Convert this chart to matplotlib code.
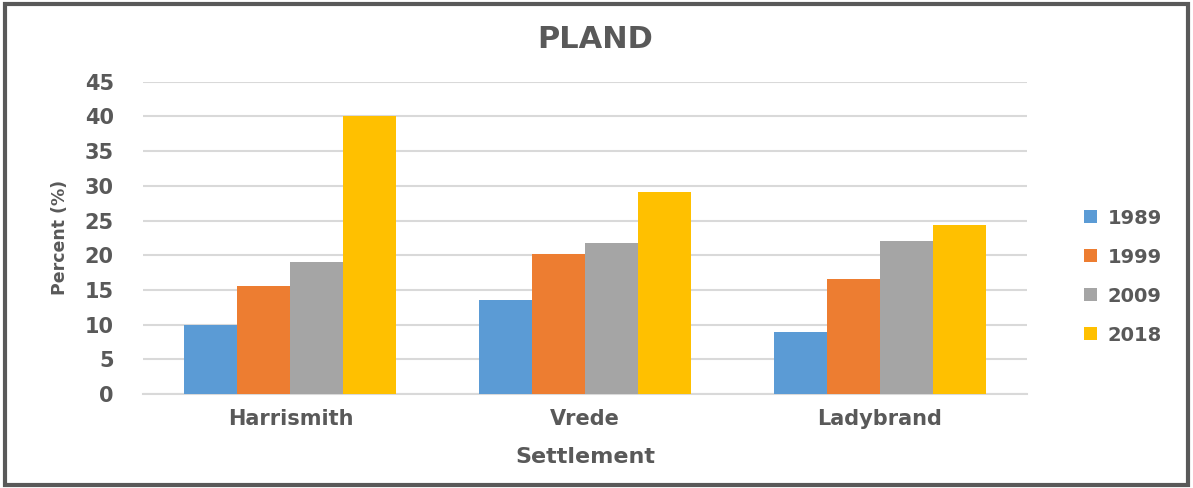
import matplotlib
matplotlib.use("Agg")
import matplotlib.pyplot as plt
from matplotlib.patches import Rectangle
import numpy as np

plt.rcParams['font.family'] = ['DejaVu Sans']

settlements = ["Harrismith", "Vrede", "Ladybrand"]
years = ["1989", "1999", "2009", "2018"]
v1989 = [10.0, 13.5, 9.0]
v1999 = [15.5, 20.2, 16.6]
v2009 = [19.0, 21.8, 22.0]
v2018 = [40.0, 29.1, 24.3]
colors = ["#5b9bd5", "#ed7d31", "#a5a5a5", "#ffc000"]

txt = "#595959"

fig = plt.figure(figsize=(11.93, 4.88), dpi=100)
ax = fig.add_axes([0.1199, 0.1926, 0.7411, 0.64])

x = np.arange(len(settlements))
w = 0.18
series = [v1989, v1999, v2009, v2018]
for i, vals in enumerate(series):
    ax.bar(x + (i - 1.5) * w, vals, width=w, color=colors[i], label=years[i], zorder=3)

ax.set_xlim(-0.5, 2.5)
ax.set_ylim(0, 45)
ax.set_yticks(np.arange(0, 46, 5))
ax.yaxis.grid(True, color="#d9d9d9", linewidth=1.5, zorder=0)
for s in ["top", "right", "left"]:
    ax.spines[s].set_visible(False)
ax.spines["bottom"].set_color("#d9d9d9")
ax.spines["bottom"].set_linewidth(1.5)
ax.tick_params(length=0)
ax.set_xticks(x)
ax.set_xticklabels(settlements, fontsize=15, fontweight="bold", color=txt)
for lab in ax.get_yticklabels():
    lab.set_fontsize(15)
    lab.set_fontweight("bold")
    lab.set_color(txt)
ax.tick_params(axis="y", pad=21)
ax.tick_params(axis="x", pad=11)

ax.set_xlabel("Settlement", fontsize=16, fontweight="bold", color=txt, labelpad=13)
ax.set_ylabel("Percent (%)", fontsize=12.5, fontweight="bold", color=txt)
ax.yaxis.set_label_coords(-0.084, 0.5)

fig.text(0.499, 0.92, "PLAND", ha="center", va="center", fontsize=22,
         fontweight="bold", color=txt)

leg = ax.legend(loc="center left", bbox_to_anchor=(1.045, 0.376), frameon=False,
                fontsize=14, handlelength=0.65, handleheight=0.65,
                labelspacing=1.03, handletextpad=0.55)
for t in leg.get_texts():
    t.set_fontweight("bold")
    t.set_color(txt)

fig.patches.append(Rectangle((0.004, 0.006), 0.992, 0.985, transform=fig.transFigure,
                             fill=False, edgecolor="#595959", linewidth=3))

fig.savefig("out.png", dpi=100)
